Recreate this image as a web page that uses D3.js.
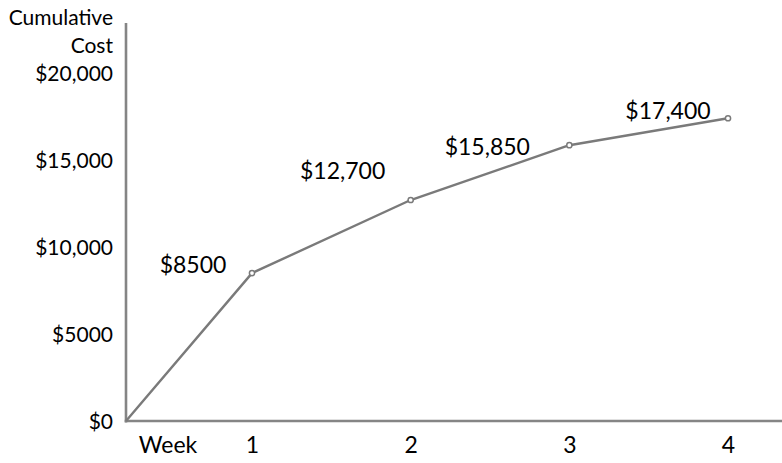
<!DOCTYPE html>
<html>
<head>
<meta charset="utf-8">
<script src="https://cdn.jsdelivr.net/npm/d3@7"></script>
<style>
  html, body { margin: 0; padding: 0; background: #ffffff; }
  svg { display: block; }
  text { font-family: Lato, "Open Sans", sans-serif; fill: #000; }
</style>
</head>
<body>
<script>
// Cumulative cost by week
const weeks = [1, 2, 3, 4];
const cumulativeCost = [8500, 12700, 15850, 17400];
const costLabels = ["$8500", "$12,700", "$15,850", "$17,400"];
const yTickValues = [0, 5000, 10000, 15000, 20000];
const yTickLabels = ["$0", "$5000", "$10,000", "$15,000", "$20,000"];
const xTickLabels = ["1", "2", "3", "4"];
const xAxisTitle = "Week";
const yAxisTitle = ["Cumulative", "Cost"];

// label nudges (dx to label centre, dy to baseline) relative to each point
const labelNudge = [[-59, 0], [-68, -21], [-82, 10], [-60, 1]];

const W = 782, H = 463;
const axisColor = "#858585";
const lineColor = "#7a7a7a";

const svg = d3.select("body").append("svg")
  .attr("width", W).attr("height", H);

// week 0 sits at the axis corner; weeks 1-4 are evenly spaced
const x = d3.scaleLinear().domain([0, 1, 4]).range([126, 252, 728]);
const y = d3.scaleLinear().domain([0, 20000]).range([421, 73]);

// series starts at the origin
const points = [{ w: 0, v: 0 }].concat(weeks.map((w, i) => ({ w, v: cumulativeCost[i] })));

// y axis tick labels
const yAxis = d3.axisLeft(y)
  .tickValues(yTickValues)
  .tickFormat((d, i) => yTickLabels[i])
  .tickSize(0)
  .tickPadding(13);
const gy = svg.append("g").attr("transform", `translate(${x(0)},0)`).call(yAxis);
gy.select(".domain").remove();
gy.selectAll("text")
  .style("font-family", "Lato, 'Open Sans', sans-serif")
  .style("font-size", "21px")
  .attr("dy", "0.36em")
  .attr("fill", "#000");

// x axis tick labels
const xAxis = d3.axisBottom(x)
  .tickValues(weeks)
  .tickFormat((d, i) => xTickLabels[i])
  .tickSize(0)
  .tickPadding(16);
const gx = svg.append("g").attr("transform", `translate(0,${y(0)})`).call(xAxis);
gx.select(".domain").remove();
gx.selectAll("text")
  .style("font-family", "Lato, 'Open Sans', sans-serif")
  .style("font-size", "23px")
  .attr("fill", "#000");

// axis titles
svg.append("text")
  .attr("x", 168).attr("y", y(0) + 32)
  .attr("text-anchor", "middle")
  .style("font-size", "23px")
  .text(xAxisTitle);

svg.append("g").selectAll("text").data(yAxisTitle).join("text")
  .attr("x", x(0) - 13)
  .attr("y", (d, i) => 25 + i * 28)
  .attr("text-anchor", "end")
  .style("font-size", "21px")
  .text(d => d);

// axis lines
svg.append("line")
  .attr("x1", x(0)).attr("x2", x(0))
  .attr("y1", 23).attr("y2", y(0) + 1.5)
  .attr("stroke", axisColor).attr("stroke-width", 2.6);
svg.append("line")
  .attr("x1", x(0) - 1.3).attr("x2", W)
  .attr("y1", y(0)).attr("y2", y(0))
  .attr("stroke", axisColor).attr("stroke-width", 2.6);

// cumulative line
const line = d3.line().x(d => x(d.w)).y(d => y(d.v));
svg.append("path")
  .datum(points)
  .attr("d", line)
  .attr("fill", "none")
  .attr("stroke", lineColor)
  .attr("stroke-width", 2.4)
  .attr("stroke-linejoin", "round");

// point markers
svg.append("g").selectAll("circle").data(points.slice(1)).join("circle")
  .attr("cx", d => x(d.w))
  .attr("cy", d => y(d.v))
  .attr("r", 2.6)
  .attr("fill", "#fff")
  .attr("stroke", lineColor)
  .attr("stroke-width", 1.5);

// value labels
svg.append("g").selectAll("text").data(points.slice(1)).join("text")
  .attr("x", (d, i) => x(d.w) + labelNudge[i][0])
  .attr("y", (d, i) => y(d.v) + labelNudge[i][1])
  .attr("text-anchor", "middle")
  .style("font-size", "23px")
  .text((d, i) => costLabels[i]);
</script>
</body>
</html>
